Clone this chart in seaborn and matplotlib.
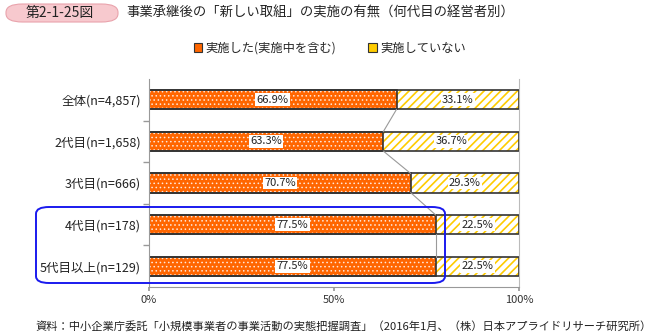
import numpy as np
import pandas as pd
import matplotlib
matplotlib.use("Agg")
import matplotlib.pyplot as plt
import seaborn as sns
from matplotlib.patches import FancyBboxPatch, Patch

categories = ["全体(n=4,857)", "2代目(n=1,658)", "3代目(n=666)", "4代目(n=178)", "5代目以上(n=129)"]
implemented = [66.9, 63.3, 70.7, 77.5, 77.5]
not_implemented = [33.1, 36.7, 29.3, 22.5, 22.5]
series_names = ["実施した(実施中を含む)", "実施していない"]
xticks = [0, 50, 100]
xticklabels = ["0%", "50%", "100%"]

sns.set_theme(style="white")
plt.rcParams['font.family'] = ['Noto Sans CJK JP', 'DejaVu Sans']

df = pd.DataFrame({"cat": categories, "impl": implemented, "notimpl": not_implemented})
df["total"] = df["impl"] + df["notimpl"]

fig = plt.figure(figsize=(6.56, 3.34), dpi=100)
ax = fig.add_axes([149/656, 1-287/334, 370/656, 208/334])

H = 0.46
ORANGE = "#FF6600"
YELLOW = "#FFCC00"
EDGE = "#333333"

# yellow (total) with stripes
n0 = len(ax.patches)
with plt.rc_context({"hatch.linewidth": 1.2}):
    sns.barplot(data=df, x="total", y="cat", orient="h", color="white", width=H, ax=ax,
                saturation=1, edgecolor=YELLOW, linewidth=0, hatch="////")
for p in ax.patches[n0:]:
    if hasattr(p, "set_hatch_linewidth"):
        p.set_hatch_linewidth(1.2)
# orange with white dots
n0 = len(ax.patches)
with plt.rc_context({"hatch.linewidth": 0.6}):
    sns.barplot(data=df, x="impl", y="cat", orient="h", color=ORANGE, width=H, ax=ax,
                saturation=1, edgecolor="#FFE8DA", linewidth=0, hatch="....")
for p in ax.patches[n0:]:
    if hasattr(p, "set_hatch_linewidth"):
        p.set_hatch_linewidth(0.6)
# outlines
sns.barplot(data=df, x="total", y="cat", orient="h", fill=False, width=H, ax=ax,
            edgecolor=EDGE, linewidth=1.2)
sns.barplot(data=df, x="impl", y="cat", orient="h", fill=False, width=H, ax=ax,
            edgecolor=EDGE, linewidth=1.2)

# connector lines
for i in range(len(categories) - 1):
    ax.plot([implemented[i], implemented[i+1]], [i + H/2, i + 1 - H/2],
            color="#9a9a9a", lw=0.8, zorder=1)

# labels
for i, (a, b) in enumerate(zip(implemented, not_implemented)):
    ax.text(a/2, i, f"{a:.1f}%", ha="center", va="center", fontsize=8, color="#222222",
            bbox=dict(boxstyle="square,pad=0.12", fc="white", ec="none"), zorder=5)
    ax.text(a + b/2, i, f"{b:.1f}%", ha="center", va="center", fontsize=8, color="#222222",
            bbox=dict(boxstyle="square,pad=0.12", fc="white", ec="none"), zorder=5)

ax.set_xlim(0, 100)
ax.set_ylim(4.5, -0.5)
ax.set_xlabel("")
ax.set_ylabel("")
ax.set_xticks(xticks)
ax.set_xticklabels(xticklabels, fontsize=8, color="#333333")
ax.tick_params(axis="x", length=3, color="#999999", pad=3, direction="out", bottom=True)
ax.tick_params(axis="y", length=0, labelsize=9, pad=6)
ax.set_yticks(range(len(categories)))
ax.set_yticklabels(categories, color="#222222")
ax.set_yticks([0.5, 1.5, 2.5, 3.5], minor=True)
ax.tick_params(axis="y", which="minor", length=4, color="#999999", left=True)
ax.spines["top"].set_visible(False)
ax.spines["right"].set_color("#bbbbbb")
ax.spines["right"].set_linewidth(0.8)
ax.spines["left"].set_color("#999999")
ax.spines["bottom"].set_color("#999999")
ax.spines["left"].set_linewidth(0.8)
ax.spines["bottom"].set_linewidth(0.8)

# legend
handles = [Patch(facecolor=ORANGE, edgecolor=EDGE, linewidth=0.8),
           Patch(facecolor=YELLOW, edgecolor=EDGE, linewidth=0.8)]
fig.legend(handles, series_names, loc="center", bbox_to_anchor=(330/656, 1-48/334), ncol=2,
           frameon=False, fontsize=8.8, handlelength=0.7, handleheight=0.7, handletextpad=0.3,
           columnspacing=2.6)

# title box
fig.patches.append(FancyBboxPatch((6/656, 1-22/334), 112/656, 18/334,
                                  boxstyle="round,pad=0,rounding_size=0.025",
                                  transform=fig.transFigure, fc="#F7C9CE", ec="#E9A3AC", lw=0.8))
fig.text(60/656, 1-13/334, "第2-1-25図", ha="center", va="center", fontsize=10, color="#222222")
fig.text(126/656, 1-13/334, "事業承継後の「新しい取組」の実施の有無（何代目の経営者別）",
         ha="left", va="center", fontsize=9.6, color="#222222")

# highlight box
fig.patches.append(FancyBboxPatch((36/656, 1-283/334), 409/656, 76/334,
                                  boxstyle="round,pad=0,rounding_size=0.02",
                                  transform=fig.transFigure, fc="none", ec="#1a1aee", lw=1.4,
                                  zorder=10))

fig.text(35/656, 1-326/334,
         "資料：中小企業庁委託「小規模事業者の事業活動の実態把握調査」（2016年1月、（株）日本アプライドリサーチ研究所）",
         ha="left", va="center", fontsize=8.1, color="#222222")

fig.savefig("out.png", dpi=100)
